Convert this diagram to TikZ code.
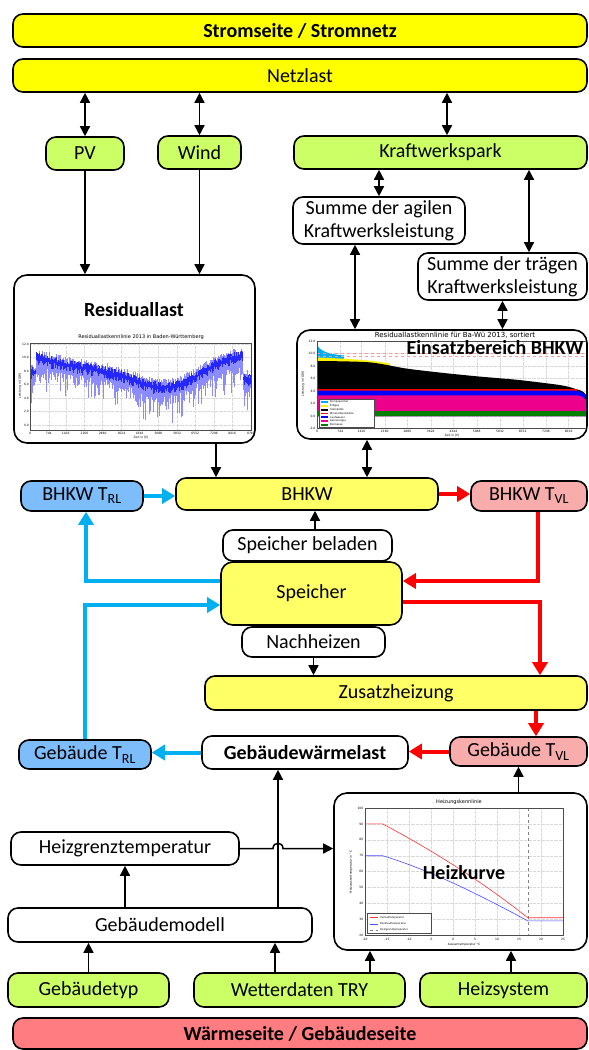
\documentclass[tikz,border=0pt]{standalone}
\usepackage{fontspec}
\setmainfont{Carlito}
\newfontfamily\plotfont{DejaVu Sans}
\usetikzlibrary{arrows.meta}
\definecolor{stromgelb}{HTML}{FFFF00}
\definecolor{hellgelb}{HTML}{FFFF66}
\definecolor{hellgruen}{HTML}{CCFF66}
\definecolor{kaltblau}{HTML}{7DBDFB}
\definecolor{warmrosa}{HTML}{F8ACAC}
\definecolor{waermerot}{HTML}{FF7C80}
\definecolor{linieblau}{HTML}{00B0F0}
\definecolor{linierot}{HTML}{FF0000}
\begin{document}
\begin{tikzpicture}[x=1pt,y=-1pt,
  box/.style={draw,line width=1.6pt,rounded corners=10pt,inner sep=0pt,align=center,font=\fontsize{20}{23}\selectfont},
  bigbox/.style={box,rounded corners=13pt,fill=white},
  titel/.style={font=\bfseries\fontsize{20}{23}\selectfont,inner sep=0pt},
  pfeil/.style={-{Triangle[length=10pt,width=10pt]},line width=1.5pt},
  dpfeil/.style={{Triangle[length=10pt,width=10pt]}-{Triangle[length=10pt,width=10pt]},line width=1.5pt},
  kalt/.style={-{Triangle[length=13pt,width=15pt]},line width=4pt,linieblau},
  warm/.style={-{Triangle[length=13pt,width=15pt]},line width=4pt,linierot},
  gitter/.style={gray!30,line width=0.3pt,densely dotted},
  achse/.style={gray!60!black,line width=0.4pt},
  tick/.style={font=\plotfont\fontsize{3}{3}\selectfont,inner sep=0.5pt},
  legtext/.style={font=\plotfont\fontsize{2.6}{2.6}\selectfont,inner sep=0pt,anchor=west},
  plottitel/.style={font=\plotfont\fontsize{5}{5}\selectfont,inner sep=0pt}]
\path[use as bounding box,fill=white] (0,0) rectangle (589,1050);

\node[box,fill=stromgelb,minimum width=574pt,minimum height=33pt,font=\bfseries\fontsize{20}{23}\selectfont] (strom) at (300,30.5) {Stromseite / Stromnetz};
\node[box,fill=stromgelb,minimum width=574pt,minimum height=33pt] (netz) at (300,75.5) {Netzlast};
\node[box,fill=hellgruen,minimum width=78pt,minimum height=33pt] (pv) at (85,153.5) {PV};
\node[box,fill=hellgruen,minimum width=83pt,minimum height=33pt] (wind) at (199.5,152.5) {Wind};
\node[box,fill=hellgruen,minimum width=293pt,minimum height=33pt] (kwp) at (440.5,152.5) {Kraftwerkspark};
\node[box,fill=white,minimum width=172pt,minimum height=47pt] (agil) at (379,220.5) {Summe der agilen\\Kraftwerksleistung};
\node[box,fill=white,minimum width=169pt,minimum height=47pt] (traeg) at (502.5,276.5) {Summe der trägen\\Kraftwerksleistung};
\node[bigbox,minimum width=241pt,minimum height=168pt] (resid) at (134.5,359) {};
\node[bigbox,minimum width=290pt,minimum height=109pt] (einsatz) at (442,384.5) {};
\node[box,fill=kaltblau,minimum width=122pt,minimum height=30pt] (btrl) at (82,496) {BHKW T\textsubscript{RL}};
\node[box,fill=hellgelb,minimum width=262pt,minimum height=32pt] (bhkw) at (307,494) {BHKW};
\node[box,fill=warmrosa,minimum width=116pt,minimum height=30pt] (btvl) at (529,496) {BHKW T\textsubscript{VL}};
\node[box,fill=white,minimum width=169pt,minimum height=31pt] (belad) at (307.5,545.5) {Speicher beladen};
\node[box,fill=hellgelb,minimum width=181pt,minimum height=63pt,rounded corners=12pt] (speicher) at (311.5,593.5) {Speicher};
\node[box,fill=white,minimum width=143pt,minimum height=30pt] (nachh) at (313.5,642) {Nachheizen};
\node[box,fill=hellgelb,minimum width=382pt,minimum height=34pt] (zusatz) at (396,693) {Zusatzheizung};
\node[box,fill=kaltblau,minimum width=132pt,minimum height=29pt] (gtrl) at (85,754.5) {Gebäude T\textsubscript{RL}};
\node[box,fill=white,minimum width=206pt,minimum height=33pt,font=\bfseries\fontsize{20}{23}\selectfont] (gwl) at (305,752.5) {Gebäudewärmelast};
\node[box,fill=warmrosa,minimum width=137pt,minimum height=29pt] (gtvl) at (518.5,751.5) {Gebäude T\textsubscript{VL}};
\node[bigbox,minimum width=253pt,minimum height=157pt] (heizk) at (460.5,871.5) {};
\node[box,fill=white,minimum width=228pt,minimum height=33pt] (hgt) at (125,848.5) {Heizgrenztemperatur};
\node[box,fill=white,minimum width=304pt,minimum height=34pt] (gmod) at (160,925) {Gebäudemodell};
\node[box,fill=hellgruen,minimum width=161pt,minimum height=34pt] (gtyp) at (88.5,990) {Gebäudetyp};
\node[box,fill=hellgruen,minimum width=211pt,minimum height=34pt] (wetter) at (299.5,990) {Wetterdaten TRY};
\node[box,fill=hellgruen,minimum width=167pt,minimum height=34pt] (heizsys) at (503.5,990) {Heizsystem};
\node[box,fill=waermerot,minimum width=574pt,minimum height=31pt,font=\bfseries\fontsize{20}{23}\selectfont] (waerme) at (300,1033.5) {Wärmeseite / Gebäudeseite};

% Residuallast
\foreach \h in {0,744,1416,2160,2880,3624,4344,5088,5832,6552,7296,8016,8760}{
  \draw[gitter] ({30+\h*0.025228},343) -- ++(0,87);
  \node[tick] (rx\h) at ({30+\h*0.025228},433.5) {\h};
}
\foreach \v in {0,2,...,12}{
  \draw[gitter] (30,{425-6.75*\v}) -- ++(221,0);
  \node[tick,anchor=east] (ry\v) at (29.5,{425-6.75*\v}) {\v.0};
}
\pgfmathsetseed{42}
\foreach \x in {30.6,31.3,...,250.6}{
  \pgfmathsetmacro\t{(\x-30)/221}
  \pgfmathsetmacro\m{7.8+2*cos(360*(\t-0.05))+0.6*cos(720*(\t-0.9))-3.3*(\t>0.965)-2.2*(\t<0.025)}
  \pgfmathsetmacro\lo{\m-1.0-1.6*rnd-2.8*(rnd>0.72)*rnd}
  \pgfmathsetmacro\hi{\m+0.5+1.0*rnd}
  \pgfmathsetmacro\kl{\m-0.9*rnd}
  \pgfmathsetmacro\kh{\m+0.3+0.7*rnd}
  \draw[blue!45,line width=0.5pt] (\x,{425-6.75*\lo}) -- (\x,{425-6.75*\hi});
  \draw[blue!85,line width=0.5pt] (\x,{425-6.75*\kl}) -- (\x,{425-6.75*\kh});
}
\draw[achse] (30,343) rectangle (251,430);
\node[plottitel] (rtitel) at (141,337) {Residuallastkennlinie 2013 in Baden-Württemberg};
\node[tick] (rzeit) at (141,437.5) {Zeit in [h]};
\node[tick,rotate=90] (rleist) at (20,386) {Leistung in [GW]};
\node[titel] (residT) at (134,310) {Residuallast};

% Einsatzbereich
\begin{scope}
\clip[rounded corners=12pt] (298,331) rectangle (586,438);
\foreach \h in {0,744,1416,2160,2880,3624,4344,5088,5832,6552,7296,8016}{
  \draw[gitter] ({317+\h*0.031393},340.75) -- ++(0,87.75);
  \node[tick] (ex\h) at ({317+\h*0.031393},431.5) {\h};
}
\foreach \v [count=\i] in {-2,0,2,4,6,8,10,12}{
  \draw[gitter] (317,{416-6.25*\v}) -- ++(275,0);
  \node[tick,anchor=east] (ey\i) at (316,{416-6.25*\v}) {\v.0};
}
\fill[cyan] (317,416) -- (317,345.4) .. controls (321,351) and (327,354) .. (344,355.5) -- (344,416) -- cycle;
\fill[yellow] (317,416) -- (317,357.5) .. controls (345,358.5) and (370,360) .. (390,363.5) -- (390,416) -- cycle;
\fill[black] (317,416) -- plot[smooth] coordinates {(317,361) (369,362.3) (406,368.5) (443,372.9) (480,376.6) (517,379.8) (553,384.1) (565,386) (576,389.1) (585,393.5) (592,411)} -- (592,416) -- cycle;
\fill[red] (317,389.1) rectangle (577,390.6);
\fill[blue] (317,416) -- (317,390.6) -- (574,390.6) .. controls (580,390.8) and (585,393) .. (588,397.5) -- (592,416) -- cycle;
\fill[magenta] (317,416) -- (317,395.4) -- (578,395.4) .. controls (584,396) and (588,401) .. (590,411) -- (592,416) -- cycle;
\fill[green!50!black] (317,411.2) rectangle (592,416);
\draw[red!40,dashed,line width=0.4pt] (317,353.3) -- ++(275,0) (317,356.5) -- ++(275,0);
\draw[achse] (317,340.75) rectangle (592,428.5);
\draw[achse,fill=white] (319,399.5) rectangle (374,427.5);
\foreach \name/\farbe [count=\i] in {Pumpspeicher/cyan,Erdgas/yellow,Steinkohle/black,Mineralölprodukte/red,Laufwasser/blue,Kernenergie/magenta,Biomasse/green!50!black}{
  \fill[\farbe] (321,{397.7+3.75*\i}) rectangle ++(7,1.6);
  \node[legtext] (eleg\i) at (330,{398.5+3.75*\i}) {\name};
}
\end{scope}
\node[plottitel,font=\plotfont\fontsize{7}{7}\selectfont] (etitel) at (455,334.8) {Residuallastkennlinie für Ba-Wü 2013, sortiert};
\node[tick] (ezeit) at (452,436) {Zeit in [h]};
\node[tick,rotate=90] (eleist) at (303,384) {Leistung in [GW]};
\node[titel] (einsatzT) at (495,348) {Einsatzbereich BHKW};

% Heizkurve
\foreach \T in {-20,-15,...,25}{
  \draw[gitter] ({365+(\T+20)*4.4},808) -- ++(0,127.2);
  \node[tick] (hx\T) at ({365+(\T+20)*4.4},939) {\T};
}
\foreach \g in {20,30,...,100}{
  \draw[gitter] (365,{808+(100-\g)*1.59}) -- ++(198,0);
  \node[tick,anchor=east] (hy\g) at (364,{808+(100-\g)*1.59}) {\g};
}
\draw[gray,dashed,line width=0.5pt] (527.8,808) -- (527.8,935.2);
\draw[red!80,line width=0.6pt] (365,823.9) -- (382.6,823.9) .. controls (430,849) and (480,880) .. (527.8,917.7) -- (563,917.7);
\draw[blue!70,line width=0.6pt] (365,855.7) -- (382.6,855.7) .. controls (430,870) and (480,895) .. (527.8,920.9) -- (563,920.9);
\draw[achse] (365,808) rectangle (563,935.2);
\draw[achse,fill=white] (367,913.5) rectangle (431,933.5);
\draw[red!80,line width=0.5pt] (369.5,917.3) -- ++(8,0);
\draw[blue!70,line width=0.5pt] (369.5,923.8) -- ++(8,0);
\draw[gray,dashed,line width=0.4pt] (369.5,930.2) -- ++(8,0);
\node[legtext] (hleg1) at (380,917.3) {Vorlauftemperatur};
\node[legtext] (hleg2) at (380,923.8) {Rücklauftemperatur};
\node[legtext] (hleg3) at (380,930.2) {Heizgrenztemperatur};
\node[plottitel] (htitel) at (459,802.5) {Heizungskennlinie};
\node[tick] (haussen) at (464,944.5) {Aussentemperatur °C};
\node[tick,rotate=90] (hwasser) at (351,872) {Heizwassertemperatur in °C};
\node[titel] (heizkT) at (464,873) {Heizkurve};

% Verbindungen
\draw[dpfeil] (pv.north) -- (pv.north |- netz.south);
\draw[dpfeil] (wind.north) -- (wind.north |- netz.south);
\draw[dpfeil] ([xshift=6.5pt]kwp.north) -- ([xshift=6.5pt]kwp.north |- netz.south);
\draw[dpfeil] (agil.north) -- (agil.north |- kwp.south);
\draw[dpfeil] ([xshift=26.5pt]traeg.north) -- ([xshift=26.5pt]traeg.north |- kwp.south);
\draw[dpfeil] ([xshift=-24pt]agil.south) -- ([xshift=-24pt]agil.south |- einsatz.north);
\draw[dpfeil] (traeg.south) -- (traeg.south |- einsatz.north);
\draw[pfeil] (pv.south) -- (pv.south |- resid.north);
\draw[pfeil] (wind.south) -- (wind.south |- resid.north);
\draw[pfeil] ([xshift=81.5pt]resid.south) -- ([xshift=81.5pt]resid.south |- bhkw.north);
\draw[dpfeil] ([xshift=-75pt]einsatz.south) -- ([xshift=-75pt]einsatz.south |- bhkw.north);
\draw[kalt] (btrl.east) -- (btrl.east -| bhkw.west);
\draw[warm] (bhkw.east) -- (bhkw.east -| btvl.west);
\draw[pfeil] ([xshift=7.5pt]belad.north) -- ([xshift=7.5pt]belad.north |- bhkw.south);
\draw[kalt] ([yshift=12.5pt]speicher.west) -| ([xshift=4pt]btrl.south);
\draw[kalt] (gtrl.north) |- ([yshift=-11.5pt]speicher.west);
\draw[warm] ([xshift=9pt]btvl.south) |- ([yshift=12.5pt]speicher.east);
\draw[warm] ([yshift=-8.5pt]speicher.east) -| ([xshift=144pt]zusatz.north);
\draw[pfeil] (nachh.south) -- (nachh.south |- zusatz.north);
\draw[warm] ([xshift=17.5pt]gtvl.north |- zusatz.south) -- ([xshift=17.5pt]gtvl.north);
\draw[warm] (gtvl.west) -- (gtvl.west -| gwl.east);
\draw[kalt] (gwl.west) -- (gwl.west -| gtrl.east);
\draw[pfeil] (heizk.north -| gtvl.south) -- (gtvl.south);
\draw[pfeil] (hgt.east) -- (273,848.5) .. controls (273,841.5) and (283,841.5) .. (283,848.5) -- (heizk.west |- hgt.east);
\draw[pfeil] (hgt.south |- gmod.north) -- (hgt.south);
\draw[pfeil] ([xshift=118pt]gmod.north) -- ([xshift=118pt]gmod.north |- gwl.south);
\draw[pfeil] (gtyp.north) -- (gtyp.north |- gmod.south);
\draw[pfeil] ([xshift=-24.5pt]wetter.north) -- ([xshift=-24.5pt]wetter.north |- gmod.south);
\draw[pfeil] ([xshift=70.5pt]wetter.north) -- ([xshift=70.5pt]wetter.north |- heizk.south);
\draw[pfeil] ([xshift=7.5pt]heizsys.north) -- ([xshift=7.5pt]heizsys.north |- heizk.south);
\end{tikzpicture}
\end{document}
